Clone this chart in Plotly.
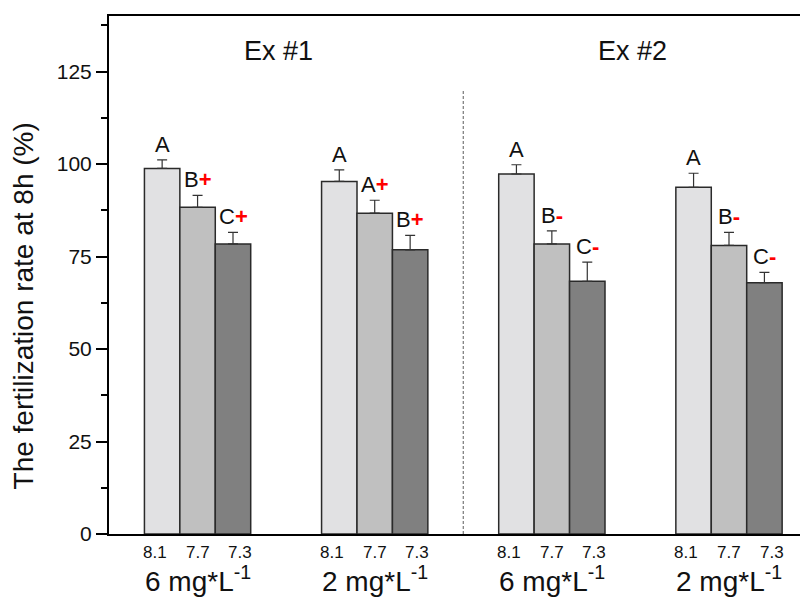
import plotly.graph_objects as go

# ---- data ----
groups = [1, 2, 3, 4]
group_labels = ["6 mg*L<sup>-1</sup>", "2 mg*L<sup>-1</sup>", "6 mg*L<sup>-1</sup>", "2 mg*L<sup>-1</sup>"]
ph_levels = ["8.1", "7.7", "7.3"]
values_81 = [98.8, 95.3, 97.3, 93.7]
values_77 = [88.3, 86.7, 78.4, 78.0]
values_73 = [78.4, 76.8, 68.3, 67.9]
err_81 = [2.3, 3.1, 2.5, 3.8]
err_77 = [3.2, 3.5, 3.5, 3.5]
err_73 = [3.1, 3.9, 5.2, 2.8]
letters_81 = ["A", "A", "A", "A"]
letters_77 = ["B", "A", "B", "B"]
letters_73 = ["C", "B", "C", "C"]
signs = ["+", "+", "-", "-"]
experiments = ["Ex #1", "Ex #2"]
yticks = [0, 25, 50, 75, 100, 125]

values = [values_81, values_77, values_73]
errors = [err_81, err_77, err_73]
letters = [letters_81, letters_77, letters_73]
colors = ["#e1e1e3", "#c0c0c0", "#808080"]

FONT = "Liberation Sans, Arial, sans-serif"
bar_w = 0.2

fig = go.Figure()
for i in range(3):
    fig.add_trace(go.Bar(
        x=groups, y=values[i], name=ph_levels[i], width=bar_w,
        offset=(i - 1.5) * bar_w,
        marker=dict(color=colors[i], line=dict(color="#2a2a2a", width=1.5)),
        error_y=dict(type="data", array=errors[i], arrayminus=[0] * 4, symmetric=False,
                     color="#333333", thickness=1.2, width=5),
        showlegend=False,
    ))

annotations = []
# significance letters
for i in range(3):
    for g in range(4):
        txt = letters[i][g]
        if i > 0:
            txt += "<span style='color:#ff0000'><b>%s</b></span>" % signs[g]
        annotations.append(dict(
            x=groups[g] + (i - 1) * bar_w, y=values[i][g] + errors[i][g],
            xref="x", yref="y", text=txt, showarrow=False,
            xanchor="center", yanchor="bottom", yshift=1,
            font=dict(family=FONT, size=22, color="#111111")))

# pH labels and concentration labels under axis
for g in range(4):
    for i in range(3):
        annotations.append(dict(
            x=groups[g] + (i - 1) * 0.24, y=0, xref="x", yref="paper",
            text=ph_levels[i], showarrow=False, xanchor="center", yanchor="middle",
            yshift=-18.5, font=dict(family=FONT, size=17, color="#111111")))
    annotations.append(dict(
        x=groups[g], y=0, xref="x", yref="paper", text=group_labels[g],
        showarrow=False, xanchor="center", yanchor="middle", yshift=-45,
        font=dict(family=FONT, size=28, color="#111111")))

# experiment titles
for k, ex in enumerate(experiments):
    annotations.append(dict(
        x=groups[2 * k] + 0.455, y=130.5, xref="x", yref="y", text=ex,
        showarrow=False, xanchor="center", yanchor="middle",
        font=dict(family=FONT, size=27, color="#111111")))

# y-axis title
annotations.append(dict(
    x=0, y=61.5, xref="paper", yref="y", text="The fertilization rate at 8h (%)",
    textangle=-90, showarrow=False, xanchor="center", yanchor="middle", xshift=-86,
    font=dict(family=FONT, size=28, color="#111111")))

# page body has an 8px margin: figure is 800x595 placed at (8, 8)
fig.update_layout(
    width=800, height=595,
    margin=dict(l=101, r=0, t=8, b=69),
    paper_bgcolor="white", plot_bgcolor="white",
    annotations=annotations,
    shapes=[dict(type="line", xref="x", yref="y",
                 x0=(groups[1] + groups[2]) / 2, x1=(groups[1] + groups[2]) / 2,
                 y0=0, y1=120, line=dict(color="#777777", width=1.2, dash="3px,2px"))],
    xaxis=dict(range=[0.5, 4.446], showline=True, linecolor="black", linewidth=2,
               mirror=True, ticks="", showticklabels=False, showgrid=False, zeroline=False),
    yaxis=dict(range=[0, 140], tickvals=yticks, showline=True, linecolor="black",
               linewidth=2, ticks="outside", ticklen=11, tickwidth=2, tickcolor="black",
               showgrid=False, zeroline=False,
               tickfont=dict(family=FONT, size=21, color="#111111"),
               minor=dict(dtick=12.5, tick0=0, ticks="outside", ticklen=6, tickwidth=2,
                          tickcolor="black", showgrid=False)),
)

fig.write_html("out.html")
